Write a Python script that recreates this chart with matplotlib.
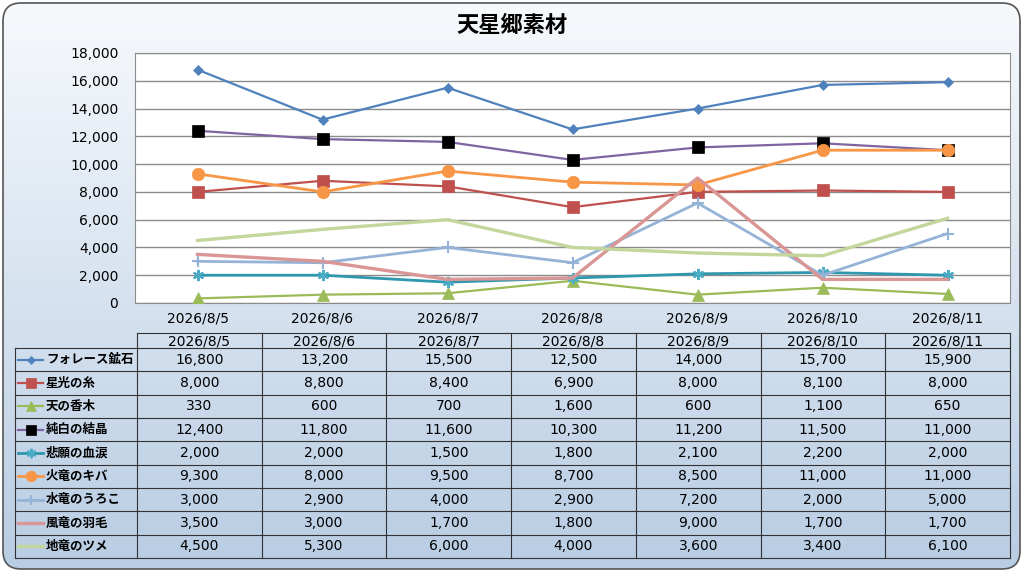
import matplotlib
matplotlib.use("Agg")
import matplotlib.pyplot as plt
import numpy as np
from matplotlib.patches import FancyBboxPatch
from matplotlib.ticker import FuncFormatter

# DejaVu for the wide digits, Noto CJK for the Japanese labels
plt.rcParams["font.family"] = ["DejaVu Sans", "Noto Sans CJK JP"]
JP = ["Noto Sans CJK JP", "DejaVu Sans"]

dates = ["2026/8/5", "2026/8/6", "2026/8/7", "2026/8/8", "2026/8/9", "2026/8/10", "2026/8/11"]
names = ["フォレース鉱石", "星光の糸", "天の香木", "純白の結晶", "悲願の血涙",
         "火竜のキバ", "水竜のうろこ", "風竜の羽毛", "地竜のツメ"]

forace = [16800, 13200, 15500, 12500, 14000, 15700, 15900]
seikou = [8000, 8800, 8400, 6900, 8000, 8100, 8000]
kouboku = [330, 600, 700, 1600, 600, 1100, 650]
junpaku = [12400, 11800, 11600, 10300, 11200, 11500, 11000]
higan = [2000, 2000, 1500, 1800, 2100, 2200, 2000]
karyu = [9300, 8000, 9500, 8700, 8500, 11000, 11000]
suiryu = [3000, 2900, 4000, 2900, 7200, 2000, 5000]
fuuryu = [3500, 3000, 1700, 1800, 9000, 1700, 1700]
chiryu = [4500, 5300, 6000, 4000, 3600, 3400, 6100]
series = [forace, seikou, kouboku, junpaku, higan, karyu, suiryu, fuuryu, chiryu]

# line color, marker, marker face color, line width, marker size
styles = [
    ("#4F81BD", "D", "#4F81BD", 1.6, 5),
    ("#C0504D", "s", "#C0504D", 1.6, 8),
    ("#9BBB59", "^", "#9BBB59", 1.6, 8),
    ("#8064A2", "s", "#000000", 1.6, 8),
    ("#2F97AE", (6, 2, 0), "#4BACC6", 2.0, 8),
    ("#F79646", "o", "#F79646", 2.0, 9),
    ("#95B3D7", "+", "#95B3D7", 2.0, 9),
    ("#D99694", None, None, 2.4, 0),
    ("#C3D69B", None, None, 2.4, 0),
]

W, H = 1024, 573
fig = plt.figure(figsize=(W / 100, H / 100), dpi=100)

# background with gradient and rounded frame
bg = fig.add_axes([0, 0, 1, 1])
bg.set_xlim(0, W)
bg.set_ylim(H, 0)
bg.axis("off")
grad = np.linspace(0, 1, 256).reshape(-1, 1)
top = np.array([0.97, 0.98, 0.99])
bot = np.array([0.72, 0.80, 0.89])
img = top + (bot - top) * grad[..., None]
im = bg.imshow(img, extent=[0, W, H, 0], aspect="auto", zorder=0)
frame = FancyBboxPatch((3, 3), W - 7, H - 7, boxstyle="round,pad=0,rounding_size=18",
                       fc="none", ec="#555555", lw=1.2, zorder=2)
bg.add_patch(frame)
im.set_clip_path(frame)
bg.text(W / 2, 25, "天星郷素材", ha="center", va="center", fontsize=16,
        fontweight="bold", family=JP)

# chart
L, R, T, B = 135, 1010, 53, 303
ax = fig.add_axes([L / W, 1 - B / H, (R - L) / W, (B - T) / H])
ax.set_facecolor("white")
x = np.arange(len(dates))
for vals, (c, m, mfc, lw, ms) in zip(series, styles):
    ax.plot(x, vals, color=c, lw=lw, marker=m, markerfacecolor=mfc,
            markeredgecolor=mfc, markersize=ms, markeredgewidth=1.5 if m in ("+", (6, 2, 0)) else 0.5,
            zorder=3)
ax.set_xlim(-0.5, len(dates) - 0.5)
ax.set_ylim(0, 18000)
ax.set_yticks(range(0, 18001, 2000))
ax.yaxis.set_major_formatter(FuncFormatter(lambda v, p: f"{int(v):,}"))
ax.set_xticks(x)
ax.set_xticklabels(dates)
ax.tick_params(axis="both", length=0, labelsize=10, pad=6)
ax.tick_params(axis="y", pad=12)
ax.grid(axis="y", color="#8C8C8C", lw=1)
for s in ax.spines.values():
    s.set_color("#8C8C8C")

# data table
tbl = fig.add_axes([0, 0, 1, 1])
tbl.set_xlim(0, W)
tbl.set_ylim(H, 0)
tbl.axis("off")
lab_l, col_l, col_r = 15, 137, 1010
head_t, body_t, body_b = 333, 348, 558
ncol = len(dates)
cw = (col_r - col_l) / ncol
rh = (body_b - body_t) / len(names)
lc = "#333333"
for j in range(ncol + 1):
    xx = col_l + j * cw
    tbl.plot([xx, xx], [head_t, body_b], color=lc, lw=0.8)
tbl.plot([col_l, col_r], [head_t, head_t], color=lc, lw=0.8)
tbl.plot([lab_l, lab_l], [body_t, body_b], color=lc, lw=0.8)
for i in range(len(names) + 1):
    yy = body_t + i * rh
    tbl.plot([lab_l, col_r], [yy, yy], color=lc, lw=0.8)
for j, d in enumerate(dates):
    tbl.text(col_l + (j + 0.5) * cw, (head_t + body_t) / 2 + 1, d, ha="center", va="center", fontsize=10)
for i, (nm, vals, (c, m, mfc, lw, ms)) in enumerate(zip(names, series, styles)):
    yc = body_t + (i + 0.5) * rh
    tbl.plot([18, 43], [yc, yc], color=c, lw=lw)
    if m is not None:
        tbl.plot([30.5], [yc], marker=m, color=mfc, markersize=ms * 0.85,
                 markeredgewidth=1.5 if m in ("+", (6, 2, 0)) else 0.5)
    tbl.text(46, yc, nm, ha="left", va="center", fontsize=9, fontweight="bold", family=JP)
    for j, v in enumerate(vals):
        tbl.text(col_l + (j + 0.5) * cw, yc, f"{v:,}", ha="center", va="center", fontsize=10)

fig.savefig("out.png", dpi=100)
